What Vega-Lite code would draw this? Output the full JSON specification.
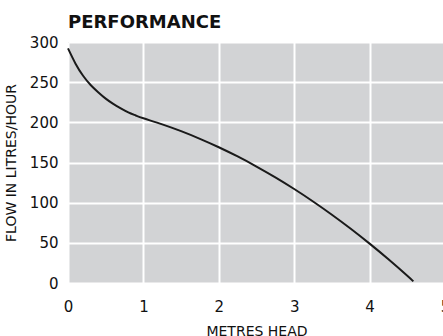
{
  "$schema": "https://vega.github.io/schema/vega-lite/v6.json",
  "width": 377,
  "height": 241,
  "autosize": "none",
  "padding": {"left": 68, "top": 42, "right": 0, "bottom": 53},
  "background": "white",
  "title": {
    "text": "PERFORMANCE",
    "anchor": "start",
    "frame": "group",
    "font": "DejaVu Sans",
    "fontSize": 18,
    "fontWeight": "bold",
    "color": "#111111",
    "offset": 3
  },
  "config": {
    "view": {"fill": "#d2d3d5", "stroke": null},
    "axis": {
      "labelFont": "DejaVu Sans",
      "titleFont": "DejaVu Sans",
      "labelColor": "#111111",
      "titleColor": "#111111",
      "domain": false,
      "ticks": false,
      "gridColor": "white",
      "gridWidth": 2,
      "gridOpacity": 1
    }
  },
  "data": {
    "values": [
      {"head": 0, "flow": 292},
      {"head": 0.1, "flow": 273},
      {"head": 0.2, "flow": 258},
      {"head": 0.3, "flow": 246.5},
      {"head": 0.4, "flow": 237.5},
      {"head": 0.5, "flow": 229.5},
      {"head": 0.6, "flow": 223},
      {"head": 0.7, "flow": 217.5},
      {"head": 0.8, "flow": 212.5},
      {"head": 0.9, "flow": 208.5},
      {"head": 1, "flow": 205},
      {"head": 1.25, "flow": 197.5},
      {"head": 1.5, "flow": 189},
      {"head": 1.75, "flow": 179.5},
      {"head": 2, "flow": 169},
      {"head": 2.25, "flow": 157.5},
      {"head": 2.5, "flow": 145},
      {"head": 2.75, "flow": 131.5},
      {"head": 3, "flow": 117},
      {"head": 3.25, "flow": 101.5},
      {"head": 3.5, "flow": 85},
      {"head": 3.75, "flow": 67.5},
      {"head": 4, "flow": 49},
      {"head": 4.25, "flow": 29.5},
      {"head": 4.5, "flow": 9},
      {"head": 4.58, "flow": 2}
    ]
  },
  "mark": {"type": "line", "color": "#1a1a1a", "strokeWidth": 2, "interpolate": "natural"},
  "encoding": {
    "x": {
      "field": "head",
      "type": "quantitative",
      "scale": {"domain": [0, 5], "nice": false},
      "axis": {
        "title": "METRES HEAD",
        "values": [0, 1, 2, 3, 4, 5],
        "labelFontSize": 15,
        "labelPadding": 16,
        "titleFontSize": 14,
        "titleFontWeight": "normal",
        "titleY": 41,
        "titleBaseline": "top",
        "labelFlush": false
      }
    },
    "y": {
      "field": "flow",
      "type": "quantitative",
      "scale": {"domain": [0, 300], "nice": false},
      "axis": {
        "title": "FLOW IN LITRES/HOUR",
        "values": [0, 50, 100, 150, 200, 250, 300],
        "labelFontSize": 15,
        "labelPadding": 10,
        "titleFontSize": 14,
        "titleFontWeight": "normal",
        "titleX": -53,
        "titleBaseline": "alphabetic",
        "labelFlush": false
      }
    }
  }
}
